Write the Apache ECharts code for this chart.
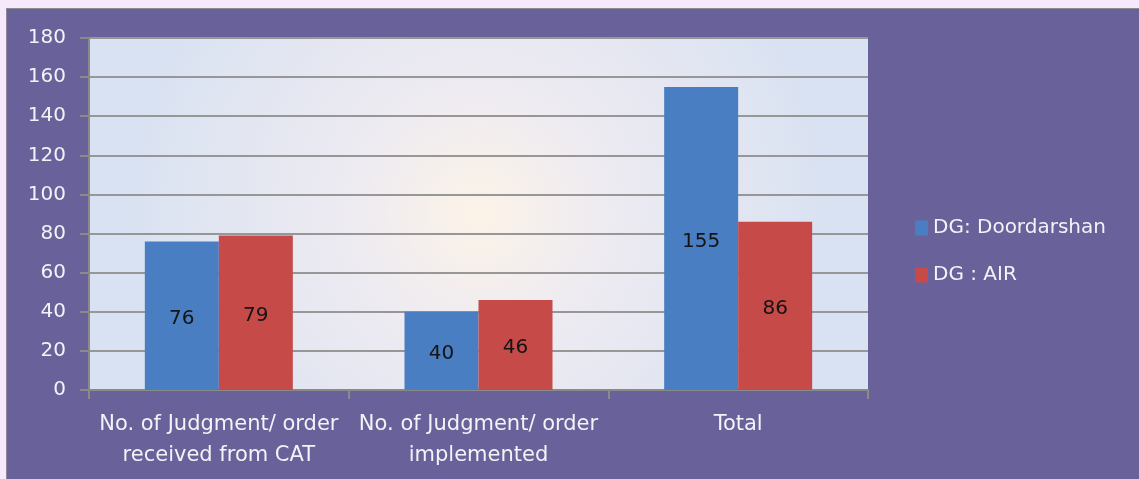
<!DOCTYPE html>
<html>
<head>
<meta charset="utf-8">
<style>
  html, body { margin: 0; padding: 0; background: #f6e9fb; overflow: hidden; }
  #frame {
    position: absolute; left: 6px; top: 8px; right: 0; bottom: 0;
    background: #69619a;
    border-top: 1px solid #8e8a92;
    border-left: 1px solid #8e8a92;
  }
  #main { position: absolute; left: 0; top: 0; width: 1139px; height: 479px; }
</style>
<script src="https://cdn.jsdelivr.net/npm/echarts@6/dist/echarts.min.js"></script>
</head>
<body>
<div id="frame"></div>
<div id="main"></div>
<script>
  // categories and values
  var categories = ['No. of Judgment/ order\nreceived from CAT', 'No. of Judgment/ order\nimplemented', 'Total'];
  var doordarshan = [76, 40, 155];
  var air = [79, 46, 86];
  var seriesNames = ['DG: Doordarshan', 'DG : AIR'];

  var myChart = echarts.init(document.getElementById('main'));

  var labelFont = 'DejaVu Sans, sans-serif';

  var option = {
    backgroundColor: 'transparent',
    textStyle: { fontFamily: labelFont },
    grid: {
      show: true,
      left: 89,
      top: 38,
      width: 779,
      height: 352,
      borderWidth: 0,
      backgroundColor: {
        type: 'radial', x: 0.5, y: 0.5, r: 1,
        colorStops: [
          { offset: 0, color: '#fcf3e7' },
          { offset: 0.35, color: '#eeebf1' },
          { offset: 1, color: '#d9e2f2' }
        ]
      }
    },
    legend: {
      orient: 'vertical',
      left: 910,
      top: 213,
      itemWidth: 13,
      itemHeight: 15,
      itemGap: 27,
      icon: 'rect',
      textStyle: { color: '#f2f2f7', fontSize: 20, fontFamily: labelFont },
      data: seriesNames
    },
    xAxis: {
      type: 'category',
      data: categories,
      axisLine: { lineStyle: { color: '#8a8a8a', width: 2 } },
      axisTick: { show: true, length: 9, lineStyle: { color: '#8a8a8a', width: 2 } },
      axisLabel: { color: '#f2f2f7', fontSize: 21, lineHeight: 31, margin: 19, interval: 0 }
    },
    yAxis: {
      type: 'value',
      min: 0,
      max: 180,
      interval: 20,
      axisLine: { show: true, lineStyle: { color: '#8a8a8a', width: 2 } },
      axisTick: { show: true, length: 9, lineStyle: { color: '#8a8a8a', width: 2 } },
      axisLabel: { color: '#f2f2f7', fontSize: 20, margin: 23 },
      splitLine: { lineStyle: { color: '#979797', width: 2 } }
    },
    series: [
      {
        name: seriesNames[0],
        type: 'bar',
        data: doordarshan,
        barWidth: 74,
        barGap: '0%',
        itemStyle: { color: '#4a7ec2' },
        label: { show: true, position: 'inside', offset: [0, 3], color: '#141414', fontSize: 20, fontFamily: labelFont }
      },
      {
        name: seriesNames[1],
        type: 'bar',
        data: air,
        barWidth: 74,
        barGap: '0%',
        itemStyle: { color: '#c64a48' },
        label: { show: true, position: 'inside', offset: [0, 3], color: '#141414', fontSize: 20, fontFamily: labelFont }
      }
    ]
  };

  myChart.setOption(option);
</script>
</body>
</html>
